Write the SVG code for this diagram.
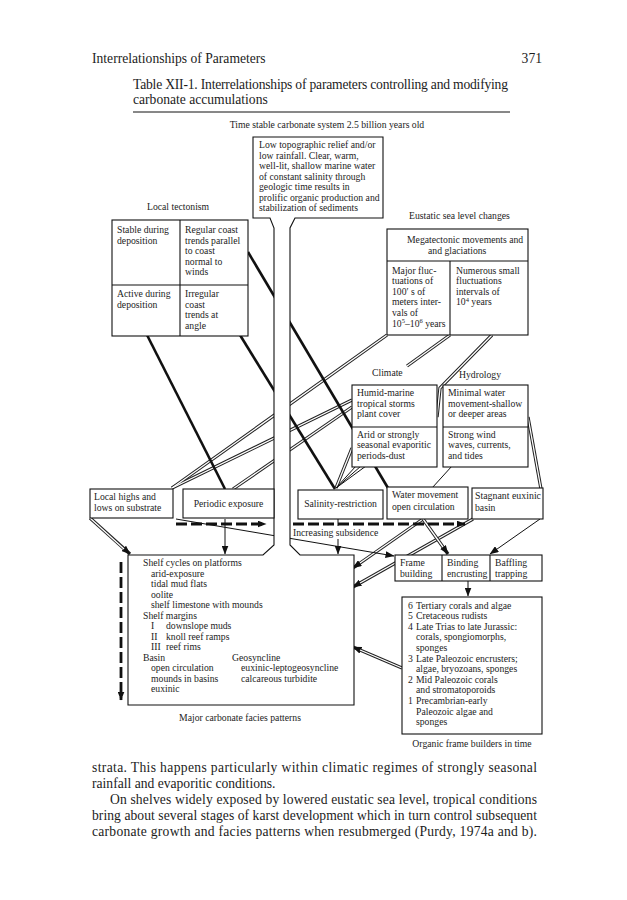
<svg xmlns="http://www.w3.org/2000/svg" xmlns:xlink="http://www.w3.org/1999/xlink" width="627" height="900" viewBox="0 0 627 900">
<style>
text{font-family:"Liberation Serif","Times New Roman",serif;fill:#1c1c1c}
.d{font-size:9.7px}
.p{font-size:13.6px}
.m{text-anchor:middle}
.box{fill:#fff;stroke:#111;stroke-width:1.1}
.ln{fill:none;stroke:#111;stroke-width:1.1}
.thick{fill:none;stroke:#111;stroke-width:2.6}
.thin{fill:none;stroke:#111;stroke-width:1}
.dash{fill:none;stroke:#111;stroke-width:2.8;stroke-dasharray:11 4}
.dblo{fill:none;stroke:#222;stroke-width:3.3}
.dbli{fill:none;stroke:#fff;stroke-width:1.3}
</style>
<defs>
<marker id="arr" markerUnits="userSpaceOnUse" markerWidth="9" markerHeight="7" refX="8.5" refY="3.5" orient="auto"><path d="M0,0 L9,3.5 L0,7 Z" fill="#111"/></marker>
<g id="dblpaths">
<path d="M387,335 L172,488"/>
<path d="M352,400 L172,488"/>
<path d="M352,407 L233,489"/>
<path d="M450,335 L407,366"/>
<path d="M492,335 L440,388 L437,417"/>
<path d="M528,417 L541,489"/>
<path d="M352,448 L336,488"/>
</g>
</defs>
<rect width="627" height="900" fill="#fff"/>

<g id="page-header">
<text class="p" x="92" y="63">Interrelationships of Parameters</text>
<text class="p" x="542" y="63" text-anchor="end">371</text>
<text class="p" x="133" y="89" textLength="375" lengthAdjust="spacing">Table XII-1. Interrelationships of parameters controlling and modifying</text>
<text class="p" x="133" y="104">carbonate accumulations</text>
<line x1="133" y1="112" x2="510" y2="112" stroke="#111" stroke-width="1"/>
<text class="d m" x="327" y="128">Time stable carbonate system 2.5 billion years old</text>
</g>

<g id="connectors">
<use xlink:href="#dblpaths" class="dblo"/>
<use xlink:href="#dblpaths" class="dbli"/>
<path class="dblo" d="M90,518 L130,554" marker-end="url(#arr)"/>
<path class="dbli" d="M90,518 L124,549"/>
<path class="dblo" d="M423,519 L353,568" marker-end="url(#arr)"/>
<path class="dbli" d="M423,519 L360,563"/>
<path class="dblo" d="M473,519 L353,587" marker-end="url(#arr)"/>
<path class="dbli" d="M473,519 L360,583"/>
<path class="dblo" d="M402,668 L353,647" marker-end="url(#arr)"/>
<path class="dbli" d="M402,668 L360,650"/>
<path class="dblo" d="M423,519 L448,554" marker-end="url(#arr)"/>
<path class="dbli" d="M423,519 L443,547"/>
<path class="thin" d="M336,488 L356,466 M336,488 L361,466 M336,488 L366,466"/>
<path class="thin" d="M452,466 L432,488"/>
<path class="thin" d="M225,519 L225,554" marker-end="url(#arr)"/>
<path class="thin" d="M540,519 L490,554" marker-end="url(#arr)"/>
<path class="thin" d="M468,581 L468,596" marker-end="url(#arr)"/>
<path class="thin" d="M338,519 L338,526"/>
<path class="thin" d="M338,539 L338,554" marker-end="url(#arr)"/>
<path class="thin" d="M176,519 L394,556" stroke-width="1.2" marker-end="url(#arr)"/>
<path class="thick" d="M147,335 L225,489"/>
<path class="thick" d="M248,252 L388,488"/>
<path class="thick" d="M240,335 L335,489"/>
<path class="dash" d="M176,524 L266,524" marker-end="url(#arr)"/>
<path class="dash" d="M293,524 L465,524" marker-end="url(#arr)"/>
<path class="dash" d="M121,562 L121,700" marker-end="url(#arr)"/>
</g>

<g id="system-channel-facies">
<path class="box" d="M253,137 H383 V218 H295 L290,228 V545 L300,555 H354 V705 H128 V555 H263 L274,545 V228 L270,218 H253 Z"/>
</g>

<g id="node-time-stable">
<text class="d" x="259" y="148">Low topographic relief and/or</text>
<text class="d" x="259" y="158.5">low rainfall. Clear, warm,</text>
<text class="d" x="259" y="169">well-lit, shallow marine water</text>
<text class="d" x="259" y="179.5">of constant salinity through</text>
<text class="d" x="259" y="190">geologic time results in</text>
<text class="d" x="259" y="200.5">prolific organic production and</text>
<text class="d" x="259" y="211">stabilization of sediments</text>
</g>

<g id="node-local-tectonism">
<text class="d" x="147" y="210">Local tectonism</text>
<rect class="box" x="112" y="220" width="136" height="116"/>
<path class="ln" d="M180,220 V336 M112,285 H248"/>
<text class="d" x="117" y="233">Stable during</text>
<text class="d" x="117" y="243.5">deposition</text>
<text class="d" x="117" y="297">Active during</text>
<text class="d" x="117" y="307.5">deposition</text>
<text class="d" x="185" y="233">Regular coast</text>
<text class="d" x="185" y="243.5">trends parallel</text>
<text class="d" x="185" y="254">to coast</text>
<text class="d" x="185" y="264.5">normal to</text>
<text class="d" x="185" y="275">winds</text>
<text class="d" x="185" y="297">Irregular</text>
<text class="d" x="185" y="307.5">coast</text>
<text class="d" x="185" y="318">trends at</text>
<text class="d" x="185" y="328.5">angle</text>
</g>

<g id="node-eustatic">
<text class="d" x="409" y="219">Eustatic sea level changes</text>
<rect class="box" x="387" y="229" width="141" height="106"/>
<path class="ln" d="M387,261 H528 M450,261 V335"/>
<text class="d" x="407" y="243">Megatectonic movements and</text>
<text class="d" x="428" y="254">and glaciations</text>
<text class="d" x="392" y="273.5">Major fluc-</text>
<text class="d" x="392" y="284">tuations of</text>
<text class="d" x="392" y="294.5">100′ s of</text>
<text class="d" x="392" y="305">meters inter-</text>
<text class="d" x="392" y="315.5">vals of</text>
<text class="d" x="392" y="326.5">10<tspan dy="-3.5" font-size="6.5">5</tspan><tspan dy="3.5">–10</tspan><tspan dy="-3.5" font-size="6.5">6</tspan><tspan dy="3.5"> years</tspan></text>
<text class="d" x="456" y="273.5">Numerous small</text>
<text class="d" x="456" y="284">fluctuations</text>
<text class="d" x="456" y="294.5">intervals of</text>
<text class="d" x="456" y="305">10<tspan dy="-3.5" font-size="6.5">4</tspan><tspan dy="3.5"> years</tspan></text>
</g>

<g id="node-climate">
<text class="d" x="372" y="376">Climate</text>
<rect class="box" x="352" y="385" width="85" height="82"/>
<path class="ln" d="M352,427 H437"/>
<text class="d" x="357" y="396">Humid-marine</text>
<text class="d" x="357" y="406.5">tropical storms</text>
<text class="d" x="357" y="417">plant cover</text>
<text class="d" x="357" y="437.5">Arid or strongly</text>
<text class="d" x="357" y="448">seasonal evaporitic</text>
<text class="d" x="357" y="458.5">periods-dust</text>
</g>

<g id="node-hydrology">
<text class="d" x="459" y="378">Hydrology</text>
<rect class="box" x="443" y="385" width="85" height="82"/>
<path class="ln" d="M443,427 H528"/>
<text class="d" x="448" y="396">Minimal water</text>
<text class="d" x="448" y="406.5">movement-shallow</text>
<text class="d" x="448" y="417">or deeper areas</text>
<text class="d" x="448" y="437.5">Strong wind</text>
<text class="d" x="448" y="448">waves, currents,</text>
<text class="d" x="448" y="458.5">and tides</text>
</g>

<g id="node-local-highs">
<rect class="box" x="90" y="489" width="83" height="29"/>
<text class="d" x="94" y="500">Local highs and</text>
<text class="d" x="94" y="511">lows on substrate</text>
</g>
<g id="node-periodic-exposure">
<rect class="box" x="183" y="489" width="91" height="29"/>
<text class="d m" x="228.5" y="507">Periodic exposure</text>
</g>
<g id="node-salinity">
<rect class="box" x="298" y="490" width="85" height="29"/>
<text class="d m" x="340.5" y="507">Salinity-restriction</text>
</g>
<g id="node-water-movement">
<rect class="box" x="387" y="487" width="81" height="32"/>
<text class="d" x="392" y="498">Water movement</text>
<text class="d" x="392" y="510">open circulation</text>
</g>
<g id="node-stagnant">
<rect class="box" x="472" y="488" width="71" height="31"/>
<text class="d" x="475" y="499" textLength="66" lengthAdjust="spacingAndGlyphs">Stagnant euxinic</text>
<text class="d" x="475" y="511">basin</text>
</g>

<g id="label-subsidence">
<text class="d" x="293" y="536">Increasing subsidence</text>
</g>

<g id="node-facies-text">
<text class="d" x="143" y="566">Shelf cycles on platforms</text>
<text class="d" x="151" y="576.5">arid-exposure</text>
<text class="d" x="151" y="587">tidal mud flats</text>
<text class="d" x="151" y="597.5">oolite</text>
<text class="d" x="151" y="608">shelf limestone with mounds</text>
<text class="d" x="143" y="618.5">Shelf margins</text>
<text class="d" x="151" y="629">I</text><text class="d" x="166" y="629">downslope muds</text>
<text class="d" x="151" y="639.5">II</text><text class="d" x="166" y="639.5">knoll reef ramps</text>
<text class="d" x="151" y="650">III</text><text class="d" x="166" y="650">reef rims</text>
<text class="d" x="143" y="660.5">Basin</text>
<text class="d" x="232" y="660.5">Geosyncline</text>
<text class="d" x="151" y="671">open circulation</text>
<text class="d" x="241" y="671">euxinic-leptogeosyncline</text>
<text class="d" x="151" y="681.5">mounds in basins</text>
<text class="d" x="241" y="681.5">calcareous turbidite</text>
<text class="d" x="151" y="692">euxinic</text>
<text class="d m" x="240" y="721">Major carbonate facies patterns</text>
</g>

<g id="node-frame">
<rect class="box" x="395" y="555" width="147" height="26"/>
<path class="ln" d="M442,555 V581 M490,555 V581"/>
<text class="d" x="400" y="566">Frame</text>
<text class="d" x="400" y="577">building</text>
<text class="d" x="447" y="566">Binding</text>
<text class="d" x="447" y="577">encrusting</text>
<text class="d" x="495" y="566">Baffling</text>
<text class="d" x="495" y="577">trapping</text>
</g>

<g id="node-organic">
<rect class="box" x="402" y="597" width="140" height="137"/>
<text class="d" x="408" y="608.5">6</text><text class="d" x="416" y="608.5">Tertiary corals and algae</text>
<text class="d" x="408" y="619">5</text><text class="d" x="416" y="619">Cretaceous rudists</text>
<text class="d" x="408" y="629.5">4</text><text class="d" x="416" y="629.5">Late Trias to late Jurassic:</text>
<text class="d" x="416" y="640">corals, spongiomorphs,</text>
<text class="d" x="416" y="651">sponges</text>
<text class="d" x="408" y="661.5">3</text><text class="d" x="416" y="661.5">Late Paleozoic encrusters;</text>
<text class="d" x="416" y="672">algae, bryozoans, sponges</text>
<text class="d" x="408" y="682.5">2</text><text class="d" x="416" y="682.5">Mid Paleozoic corals</text>
<text class="d" x="416" y="693">and stromatoporoids</text>
<text class="d" x="408" y="704">1</text><text class="d" x="416" y="704">Precambrian-early</text>
<text class="d" x="416" y="714.5">Paleozoic algae and</text>
<text class="d" x="416" y="725">sponges</text>
<text class="d m" x="472" y="747">Organic frame builders in time</text>
</g>

<g id="body-text">
<text class="p" x="92" y="772" textLength="445" lengthAdjust="spacing">strata. This happens particularly within climatic regimes of strongly seasonal</text>
<text class="p" x="92" y="788">rainfall and evaporitic conditions.</text>
<text class="p" x="110" y="804" textLength="427" lengthAdjust="spacing">On shelves widely exposed by lowered eustatic sea level, tropical conditions</text>
<text class="p" x="92" y="820" textLength="445" lengthAdjust="spacing">bring about several stages of karst development which in turn control subsequent</text>
<text class="p" x="92" y="836" textLength="445" lengthAdjust="spacing">carbonate growth and facies patterns when resubmerged (Purdy, 1974a and b).</text>
</g>
</svg>
